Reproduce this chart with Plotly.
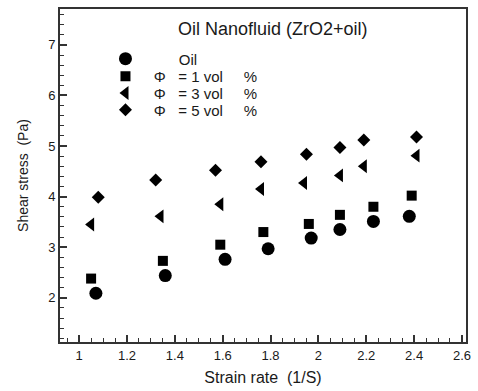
import plotly.graph_objects as go

# Strain rate (1/S) and shear stress (Pa)
oil_x = [1.07, 1.36, 1.61, 1.79, 1.97, 2.09, 2.23, 2.38]
oil_y = [2.09, 2.44, 2.76, 2.97, 3.18, 3.35, 3.51, 3.61]

phi1_x = [1.05, 1.35, 1.59, 1.77, 1.96, 2.09, 2.23, 2.39]
phi1_y = [2.38, 2.73, 3.05, 3.30, 3.46, 3.64, 3.80, 4.02]

phi3_x = [1.05, 1.34, 1.59, 1.76, 1.94, 2.09, 2.19, 2.41]
phi3_y = [3.45, 3.61, 3.85, 4.15, 4.27, 4.42, 4.60, 4.81]

phi5_x = [1.08, 1.32, 1.57, 1.76, 1.95, 2.09, 2.19, 2.41]
phi5_y = [3.99, 4.33, 4.52, 4.69, 4.84, 4.97, 5.12, 5.18]

NB = "\u00a0"
def phi_label(v):
    return (NB * 2 + "\u03a6" + NB * 3 + "=" + NB + v + NB + "vol" + NB * 5 + "%")

names = [NB * 8 + "Oil", phi_label("1"), phi_label("3"), phi_label("5")]
symbols = ["circle", "square", "triangle-left", "diamond"]
sizes = [13, 10, 12, 10]
xs = [oil_x, phi1_x, phi3_x, phi5_x]
ys = [oil_y, phi1_y, phi3_y, phi5_y]
legend_ids = ["legend", "legend2", "legend3", "legend4"]
legend_rows = [0.850, 0.797, 0.747, 0.697]

title_text = "Oil Nanofluid (ZrO2+oil)"
x_title = "Strain rate" + NB * 2 + "(1/S)"
y_title = "Shear stress" + NB * 2 + "(Pa)"

FAM = "Liberation Sans, Arial, sans-serif"
INK = "#1a1a1a"

fig = go.Figure()
for n, s, sz, x, y, lg in zip(names, symbols, sizes, xs, ys, legend_ids):
    fig.add_trace(go.Scatter(x=x, y=y, mode="markers", name=n, legend=lg,
                             marker=dict(symbol=s, size=sz, color="black",
                                         line=dict(width=0))))

legend_style = dict(x=0.112, xanchor="left", yanchor="middle",
                    bgcolor="rgba(0,0,0,0)", font=dict(size=15, family=FAM, color=INK),
                    itemsizing="trace")
layout_legends = {lg: dict(legend_style, y=yy) for lg, yy in zip(legend_ids, legend_rows)}

fig.update_layout(
    width=478, height=391,
    margin=dict(l=60, r=10, t=7, b=44),
    paper_bgcolor="white", plot_bgcolor="white",
    font=dict(family=FAM, size=13, color=INK),
    showlegend=True,
    annotations=[dict(text=title_text, xref="paper", yref="paper",
                      x=0.525, y=0.94, xanchor="center", yanchor="middle",
                      showarrow=False, font=dict(size=18, family=FAM, color=INK))],
    **layout_legends,
)

fig.update_xaxes(
    range=[0.92, 2.617], dtick=0.2, tick0=0,
    showgrid=False, zeroline=False,
    showline=True, linecolor="#333", linewidth=2, mirror=True,
    ticks="inside", ticklen=7, tickwidth=1.5, tickcolor="#333",
    minor=dict(dtick=0.05, ticks="inside", ticklen=4, tickwidth=1, tickcolor="#333", showgrid=False),
    tickfont=dict(size=13, color=INK),
    title=dict(text=x_title, font=dict(size=16, color=INK), standoff=10),
)
fig.update_yaxes(
    range=[1.126, 7.71], dtick=1, tick0=0,
    showgrid=False, zeroline=False,
    showline=True, linecolor="#333", linewidth=2, mirror=True,
    ticks="inside", ticklen=7, tickwidth=1.5, tickcolor="#333",
    minor=dict(dtick=0.2, ticks="inside", ticklen=4, tickwidth=1, tickcolor="#333", showgrid=False),
    tickfont=dict(size=13, color=INK),
    title=dict(text=y_title, font=dict(size=14, color=INK), standoff=16),
)

fig.write_html("out.html")
